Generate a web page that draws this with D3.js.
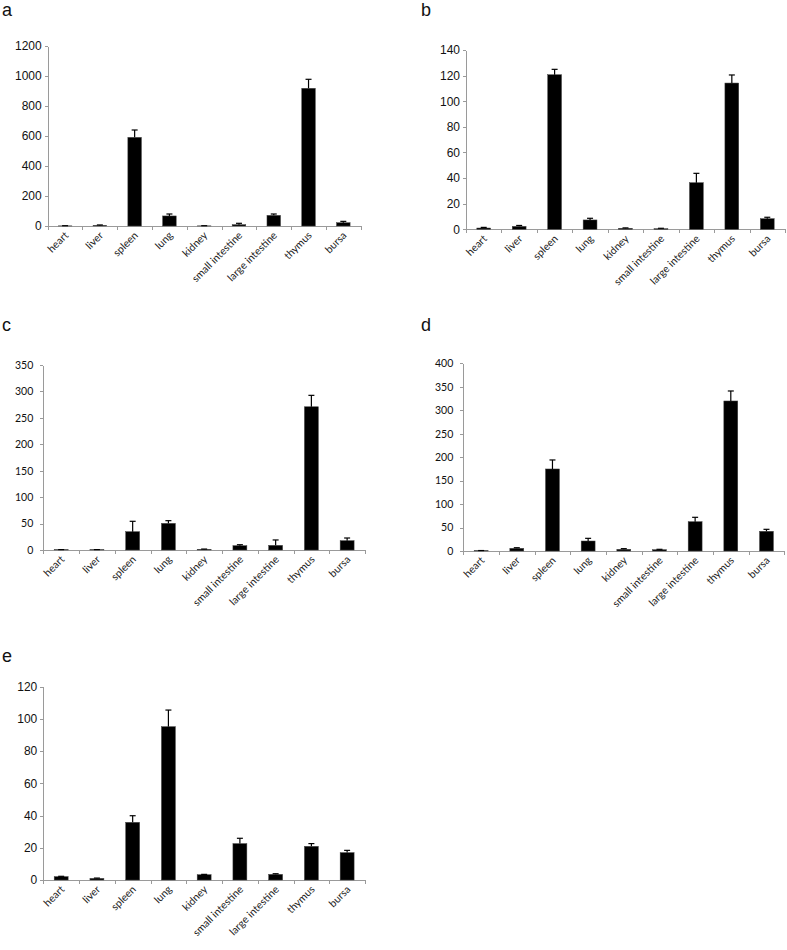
<!DOCTYPE html>
<head>
  <meta charset="utf-8">
  <script src="https://d3js.org/d3.v7.min.js"></script>
  <style>
    body { margin:0; background:#fff; }
    .axis path, .axis line { fill:none; stroke:#9a9a9a; shape-rendering:crispEdges; }
    .letter { font: 18px "Liberation Sans", Arial, sans-serif; fill:#111; }
  </style>
</head>
<body>
  <svg id="fig" width="787" height="950"></svg>
  <script>
  var categories = ["heart", "liver", "spleen", "lung", "kidney", "small intestine", "large intestine", "thymus", "bursa"];

  // panel a
  var meanA = [1, 4, 591, 67, 1, 9, 71, 918, 22];
  var errA  = [1, 3, 49, 13, 1, 9, 9, 60, 9];
  // panel b
  var meanB = [1, 2.3, 120.7, 7.3, 0.8, 0.5, 36.4, 114.2, 8.3];
  var errB  = [0.5, 0.7, 4.2, 1.3, 0.3, 0.3, 7.3, 6.3, 1.1];
  // panel c
  var meanC = [0.5, 0.5, 34.7, 50.4, 1.3, 8.2, 8.8, 271, 17.7];
  var errC  = [0.3, 0.3, 19.6, 5.1, 0.5, 1.8, 10.2, 21.6, 5];
  // panel d
  var meanD = [0.7, 5.7, 174.8, 21.3, 3.6, 2.8, 62.5, 319.7, 42];
  var errD  = [0.3, 1.3, 19.2, 5.7, 1.4, 0.8, 9.3, 21.3, 4.2];
  // panel e
  var meanE = [2.1, 1, 35.8, 95.2, 3.3, 22.6, 3.5, 20.9, 17];
  var errE  = [0.2, 0.2, 4.1, 10.3, 0.2, 3.3, 0.4, 1.7, 1.4];

  var ticksA = [0, 200, 400, 600, 800, 1000, 1200];
  var ticksB = [0, 20, 40, 60, 80, 100, 120, 140];
  var ticksC = [0, 50, 100, 150, 200, 250, 300, 350];
  var ticksD = [0, 50, 100, 150, 200, 250, 300, 350, 400];
  var ticksE = [0, 20, 40, 60, 80, 100, 120];

  var arial = '12px "Liberation Sans", Arial, sans-serif';
  var calibri = '10.5px Lato, sans-serif';

  var panels = [
    {letter: "a", lx: 2,   ly: 16,  x0: 47.7, x1: 360.7, yTop: 46,    y0: 226,   mean: meanA, err: errA, ticks: ticksA, font: arial,   pad: 3},
    {letter: "b", lx: 421, ly: 16,  x0: 466,  x1: 785,   yTop: 50,    y0: 229.3, mean: meanB, err: errB, ticks: ticksB, font: arial,   pad: 3},
    {letter: "c", lx: 2,   ly: 331, x0: 43.3, x1: 365,   yTop: 365,   y0: 550,   mean: meanC, err: errC, ticks: ticksC, font: calibri, pad: 7},
    {letter: "d", lx: 421, ly: 331, x0: 463.3,x1: 784.3, yTop: 363.3, y0: 551,   mean: meanD, err: errD, ticks: ticksD, font: calibri, pad: 7},
    {letter: "e", lx: 2,   ly: 662, x0: 43.3, x1: 365,   yTop: 686.7, y0: 880,   mean: meanE, err: errE, ticks: ticksE, font: arial,   pad: 3}
  ];

  var svg = d3.select("#fig");

  panels.forEach(function(p) {
    var g = svg.append("g");

    g.append("text").attr("class", "letter")
      .attr("x", p.lx).attr("y", p.ly).text(p.letter);

    var x = d3.scaleBand().domain(categories).range([p.x0, p.x1]);
    var xb = d3.scaleLinear().domain([0, categories.length]).range([p.x0, p.x1]);
    var y = d3.scaleLinear().domain([0, d3.max(p.ticks)]).range([p.y0, p.yTop]);

    // y axis
    var ya = g.append("g").attr("class", "axis")
      .attr("transform", "translate(" + p.x0 + ",0)")
      .call(d3.axisLeft(y).tickValues(p.ticks).tickFormat(d3.format("d"))
        .tickSize(3).tickSizeOuter(0).tickPadding(p.pad));
    ya.selectAll("text").style("font", p.font).attr("fill", "#111");

    // x axis, ticks between categories
    g.append("g").attr("class", "axis")
      .attr("transform", "translate(0," + p.y0 + ")")
      .call(d3.axisBottom(xb).tickValues(d3.range(categories.length + 1))
        .tickSize(4).tickSizeOuter(0).tickFormat(""));

    var bw = x.bandwidth() * 0.39;
    var cx = function(d) { return x(d) + x.bandwidth() / 2; };

    // bars
    g.selectAll("rect.bar").data(categories).enter().append("rect")
      .attr("class", "bar")
      .attr("x", function(d) { return cx(d) - bw / 2; })
      .attr("width", bw)
      .attr("y", function(d, i) { return y(p.mean[i]); })
      .attr("height", function(d, i) { return p.y0 - y(p.mean[i]); })
      .attr("fill", "#000")
      .attr("stroke", "#444")
      .attr("stroke-width", 0.5);

    // error bars, upper only
    var eb = g.selectAll("g.err").data(categories).enter().append("g").attr("class", "err");
    eb.append("line")
      .attr("x1", cx).attr("x2", cx)
      .attr("y1", function(d, i) { return y(p.mean[i]); })
      .attr("y2", function(d, i) { return y(p.mean[i] + p.err[i]); })
      .attr("stroke", "#000").attr("stroke-width", 1.2);
    eb.append("line")
      .attr("x1", function(d) { return cx(d) - 3; })
      .attr("x2", function(d) { return cx(d) + 3; })
      .attr("y1", function(d, i) { return y(p.mean[i] + p.err[i]); })
      .attr("y2", function(d, i) { return y(p.mean[i] + p.err[i]); })
      .attr("stroke", "#000").attr("stroke-width", 1.2);

    // category labels rotated -45
    g.selectAll("text.cat").data(categories).enter().append("text")
      .attr("class", "cat")
      .attr("text-anchor", "end")
      .attr("transform", function(d) { return "translate(" + (cx(d) + 4) + "," + (p.y0 + 10) + ") rotate(-45)"; })
      .style("font", "10.5px Lato, sans-serif")
      .attr("fill", "#222")
      .text(function(d) { return d; });
  });
  </script>
</body>
